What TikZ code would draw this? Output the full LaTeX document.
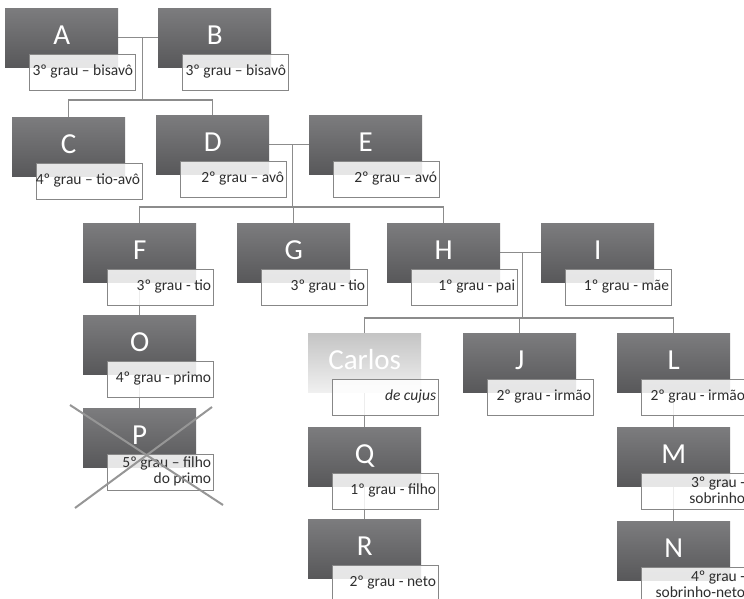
\documentclass[tikz,border=0pt]{standalone}
\usepackage{fontspec}
\setmainfont{Carlito}
\usetikzlibrary{calc}
\pgfdeclarelayer{bg}
\pgfsetlayers{bg,main}

\definecolor{boxtop}{RGB}{124,124,126}
\definecolor{boxbot}{RGB}{88,88,90}
\definecolor{deadtop}{RGB}{196,196,196}
\definecolor{deadbot}{RGB}{240,240,240}
\definecolor{linegray}{RGB}{140,140,140}
\definecolor{framegray}{RGB}{135,135,135}
\definecolor{crossgray}{RGB}{150,150,150}

\tikzset{
  person/.style={rectangle, anchor=north west, minimum width=113pt,
    minimum height=59pt, inner sep=0pt, top color=boxtop, bottom color=boxbot,
    text=white, font=\fontsize{29}{31}\selectfont, text height=19pt, text depth=6pt},
  subject/.style={person, top color=deadtop, bottom color=deadbot},
  degree/.style={rectangle, anchor=north west, draw=framegray, line width=0.8pt,
    fill=white, fill opacity=0.85, minimum width=106pt, minimum height=36pt,
    inner sep=0pt},
  degtext/.style={anchor=east, align=right, inner sep=0pt,
    font=\fontsize{15.5}{16}\selectfont, text=black!82},
  conn/.style={draw=linegray, line width=1.3pt},
  strike/.style={draw=crossgray, line width=2pt},
}

% \relative[style]{name}{north-west corner}{initial}{degree text}
\newcommand\relative[5][person]{%
  \node[#1] (#2) at (#3) {#4};
  \node[degree] (#2-deg) at ($(#2.north west)+(24,46)$) {};
  \node[degtext] (#2-txt) at ($(#2-deg.east)+(-2.5,-1)$) {#5};
}

\begin{document}
\begin{tikzpicture}[x=1pt,y=-1pt]
  \useasboundingbox (0,0) rectangle (744,599);
  \begin{pgfonlayer}{bg}
    \fill[white] (0,0) rectangle (744,599);
  \end{pgfonlayer}

  % great-grandparents
  \relative{A}{5,8}{A}{3º grau – bisavô}
  \relative{B}{158,8}{B}{3º grau – bisavô}
  % grandparents' generation
  \relative{C}{12,117}{C}{4º grau – tio-avô}
  \relative{D}{156,115}{D}{2º grau – avô}
  \relative{E}{309,115}{E}{2º grau – avó}
  % parents' generation
  \relative{F}{83,223}{F}{3º grau - tio}
  \relative{G}{237,223}{G}{3º grau - tio}
  \relative{H}{387,223}{H}{1º grau - pai}
  \relative{I}{541,223}{I}{1º grau - mãe}
  % cousin line
  \relative{O}{83,315}{O}{4º grau - primo}
  \relative{P}{83,408}{P}{5º grau – filho\\do primo}
  % the deceased and siblings
  \relative[subject]{Carlos}{308,333}{Carlos}{\textit{de cujus}}
  \relative{J}{463,333}{J}{2º grau - irmão}
  \relative{L}{617,333}{L}{2º grau - irmão}
  % descendants
  \relative{Q}{308,427}{Q}{1º grau - filho}
  \relative{R}{308,519}{R}{2º grau - neto}
  \relative{M}{617,427}{M}{3º grau -\\sobrinho}
  \relative{N}{617,521}{N}{4º grau -\\sobrinho-neto}

  % junction points of the couples and the sibling buses
  \coordinate (ABj) at ($(A.east)!0.6!(B.west)$);
  \coordinate (ABbus) at (ABj |- 0,100);
  \coordinate (DEj) at ($(D.east)!0.58!(E.west)$);
  \coordinate (DEbus) at (DEj |- 0,207);
  \coordinate (HIj) at ($(H.east)!0.55!(I.west)$);
  \coordinate (HIbus) at (HIj |- 0,318);

  \begin{pgfonlayer}{bg}
    \draw[conn] (A.east) -- (B.west);
    \draw[conn] (ABj) -- (ABbus);
    \draw[conn] (C.north) |- (ABbus) -| (D.north);

    \draw[conn] (D.east) -- (E.west);
    \draw[conn] (DEj) -- (DEbus);
    \draw[conn] (F.north) |- (DEbus) -| (H.north);
    \draw[conn] (G.north) -- (G.north |- DEbus);

    \draw[conn] (H.east) -- (I.west);
    \draw[conn] (HIj) -- (HIbus);
    \draw[conn] (Carlos.north) |- (HIbus) -| (L.north);
    \draw[conn] (J.north) -- (J.north |- HIbus);

    \draw[conn] (F.center) -- (O.center) -- (P.center);
    \draw[conn] (Carlos.center) -- (Q.center) -- (R.center);
    \draw[conn] (L.center) -- (M.center) -- (N.center);
  \end{pgfonlayer}

  % struck-out relative
  \draw[strike] ($(P.north west)+(-13,-3)$) -- ($(P.north west)+(140,97)$);
  \draw[strike] ($(P.north west)+(-8,100)$) -- ($(P.north west)+(129,-1)$);
\end{tikzpicture}
\end{document}
